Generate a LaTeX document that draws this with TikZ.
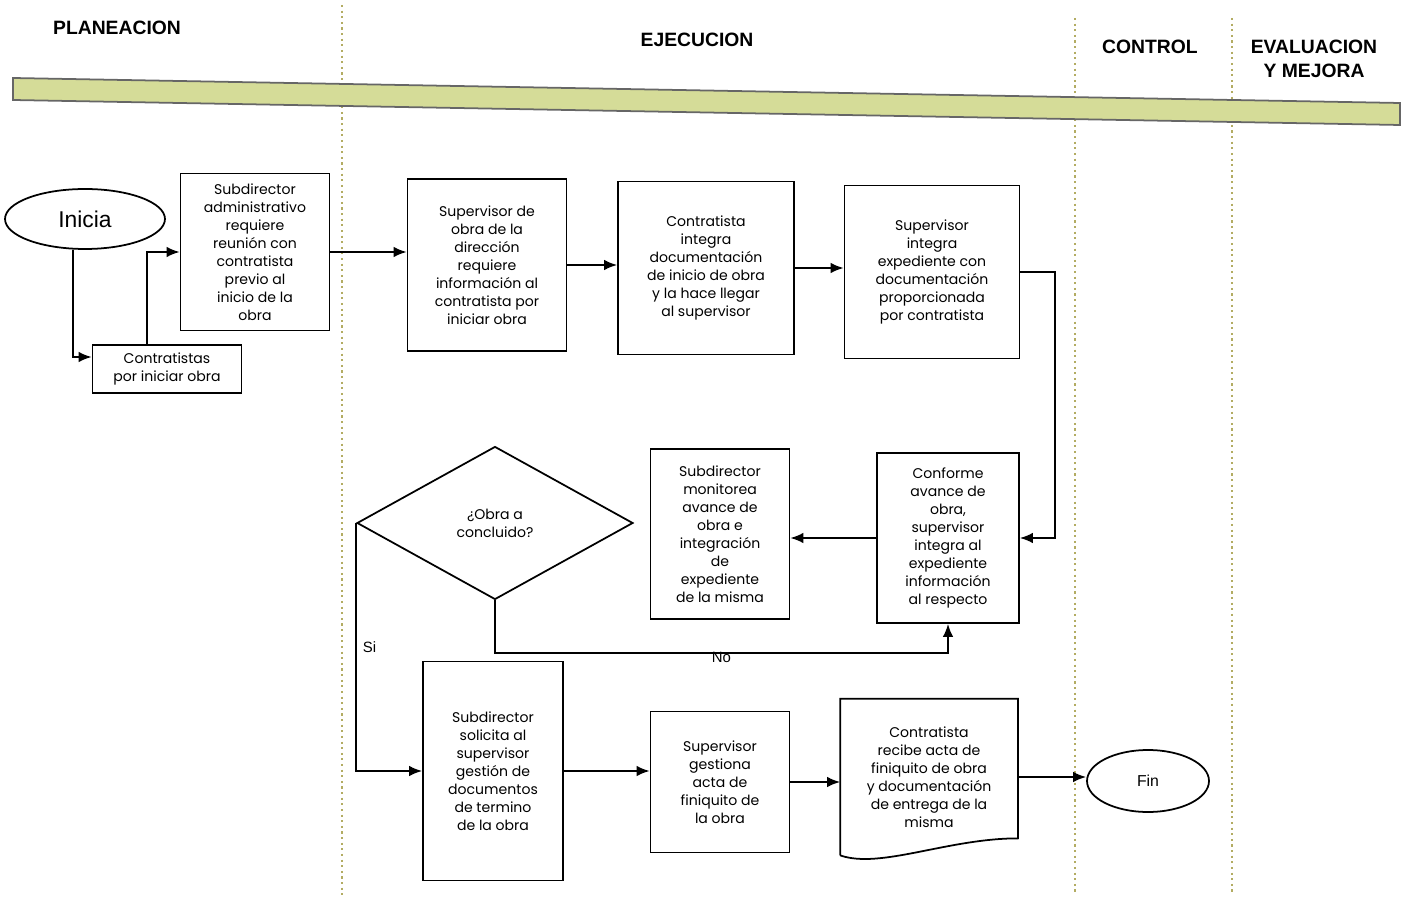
\documentclass[tikz,border=0pt]{standalone}
\usepackage{fontspec}
\setmainfont{Poppins}
\newfontfamily\arial{Liberation Sans}
\usetikzlibrary{shapes.geometric,arrows.meta}
\definecolor{carril}{HTML}{B3AC63}
\definecolor{banda}{HTML}{D5DC98}
\tikzset{
  caja/.style={draw, line width=1pt, align=center, inner sep=2pt, font=\fontsize{8}{10.2}\selectfont},
  flecha/.style={line width=1pt, -{Latex[length=2.6mm,width=2.1mm]}},
  titulo/.style={font=\arial\bfseries\fontsize{11}{13.5}\selectfont, align=center},
  lbl/.style={font=\arial\fontsize{8.5}{10}\selectfont}
}
\begin{document}
\begin{tikzpicture}[x=0.02cm, y=-0.02cm]
\useasboundingbox (0,0) rectangle (1405,901);

% carriles
\draw[carril, dotted, line width=1.2pt] (342,5) -- (342,895);
\draw[carril, dotted, line width=1.2pt] (1075,18) -- (1075,895);
\draw[carril, dotted, line width=1.2pt] (1232,18) -- (1232,895);
\filldraw[fill=banda, draw=black!60, line width=1pt] (13,78) -- (1400,103) -- (1400,125) -- (13,100) -- cycle;

\node[titulo] at (117,28) {PLANEACION};
\node[titulo] at (697,40) {EJECUCION};
\node[titulo] at (1150,47) {CONTROL};
\node[titulo] at (1314,59) {EVALUACION\\Y MEJORA};

\node[draw, ellipse, line width=1pt, minimum width=3.2cm, minimum height=1.2cm, font=\arial\fontsize{13}{15}\selectfont] (inicio) at (85,219) {Inicia};
\node[caja, minimum width=2.98cm, minimum height=0.96cm] (contratistas) at (167,369) {Contratistas\\por iniciar obra};
\node[caja, minimum width=2.98cm, minimum height=3.14cm] (subadmin) at (255,252) {Subdirector\\administrativo\\requiere\\reunión con\\contratista\\previo al\\inicio de la\\obra};
\node[caja, minimum width=3.18cm, minimum height=3.44cm] (supobra) at (487,265) {Supervisor de\\obra de la\\dirección\\requiere\\información al\\contratista por\\iniciar obra};
\node[caja, minimum width=3.52cm, minimum height=3.46cm] (contint) at (706,268) {Contratista\\integra\\documentación\\de inicio de obra\\y la hace llegar\\al supervisor};
\node[caja, minimum width=3.5cm, minimum height=3.46cm] (supexp) at (932,272) {Supervisor\\integra\\expediente con\\documentación\\proporcionada\\por contratista};

\node[caja, minimum width=2.84cm, minimum height=3.4cm] (conforme) at (948,538) {Conforme\\avance de\\obra,\\supervisor\\integra al\\expediente\\información\\al respecto};
\node[caja, minimum width=2.78cm, minimum height=3.4cm] (submon) at (720,534) {Subdirector\\monitorea\\avance de\\obra e\\integración\\de\\expediente\\de la misma};
\node[draw, diamond, line width=1pt, minimum width=5.52cm, minimum height=3.06cm, inner sep=0pt, align=center, font=\fontsize{8}{10.2}\selectfont] (decision) at (495,523) {¿Obra a\\concluido?};

\node[caja, minimum width=2.8cm, minimum height=4.38cm] (subsol) at (493,771) {Subdirector\\solicita al\\supervisor\\gestión de\\documentos\\de termino\\de la obra};
\node[caja, minimum width=2.78cm, minimum height=2.82cm] (supgest) at (720,782) {Supervisor\\gestiona\\acta de\\finiquito de\\la obra};
\node[caja, draw=none, minimum width=3.52cm, minimum height=3.1cm] (acta) at (929,777) {Contratista\\recibe acta de\\finiquito de obra\\y documentación\\de entrega de la\\misma};
\draw[line width=1pt] (acta.south west) -- (acta.north west) -- (acta.north east) -- ([yshift=0.34cm]acta.south east)
  .. controls +(-70,0) and +(40,14) .. (acta.south west);
\node[draw, ellipse, line width=1pt, minimum width=2.44cm, minimum height=1.24cm, font=\arial\fontsize{9}{11}\selectfont] (fin) at (1148,781) {Fin};

\draw[flecha] ([xshift=-0.24cm]inicio.south) |- ([yshift=0.24cm]contratistas.west);
\draw[flecha] ([xshift=-0.4cm]contratistas.north) |- (subadmin.west);
\draw[flecha] (subadmin.east) -- (subadmin.east -| supobra.west);
\draw[flecha] (supobra.east) -- (supobra.east -| contint.west);
\draw[flecha] (contint.east) -- (contint.east -| supexp.west);
\draw[flecha] (supexp.east) -- ++(0.7cm,0) |- (conforme.east);
\draw[flecha] (conforme.west) -- (conforme.west -| submon.east);
\draw[flecha] (decision.south) |- node[pos=0.75, lbl, yshift=-0.09cm] {No} (conforme.south |- 0,653) -- (conforme.south);
\draw[flecha] (decision.west) |- node[pos=0.25, right, lbl] {Si} (subsol.west);
\draw[flecha] (subsol.east) -- (subsol.east -| supgest.west);
\draw[flecha] (supgest.east) -- (supgest.east -| acta.west);
\draw[flecha] (acta.east) -- (acta.east -| fin.west);
\end{tikzpicture}
\end{document}
